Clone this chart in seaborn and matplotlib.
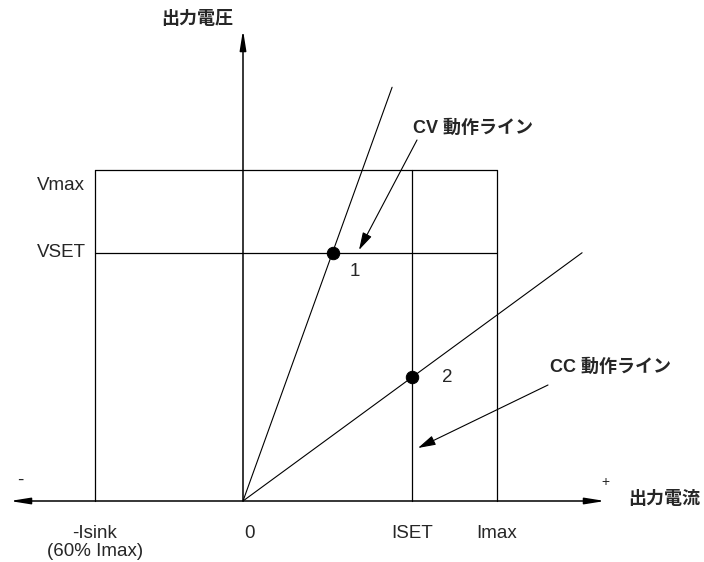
import numpy as np
import pandas as pd
import seaborn as sns
import matplotlib.pyplot as plt

sns.set_theme(style="white")
plt.rcParams["font.family"] = ["Liberation Sans", "Noto Sans CJK JP", "DejaVu Sans"]

# 電流 (Imax = 1)、電圧 (Vmax = 1)
i_ticks = [-0.583, 0.0, 0.665, 1.0]
i_labels = ["-Isink\n(60% Imax)", "0", "ISET", "Imax"]
v_levels = [0.75, 1.0]
v_labels = ["VSET", "Vmax"]
cv_x = [0.0, 0.587]
cv_y = [0.0, 1.25]
cc_x = [0.0, 1.335]
cc_y = [0.0, 0.75]
pt_x = [0.354, 0.665]
pt_y = [0.75, 0.375]
pt_labels = ["1", "2"]


def P(x, y):
    # 参照画像のピクセル位置 -> データ座標
    return ((x - 243) / 254.0, (501 - y) / 331.0)


fig = plt.figure(figsize=(7.04, 5.62), dpi=100)
ax = fig.add_axes([0, 0, 1, 1])
x0, y0 = P(0, 562)
x1, y1 = P(704, 0)
ax.set_xlim(x0, x1)
ax.set_ylim(y0, y1)
ax.axis("off")

lw = 0.9
isink, imax = i_ticks[0], i_ticks[-1]
vset, vmax = v_levels
iset = i_ticks[2]

# 枠
ax.plot([isink, imax], [vmax, vmax], color="black", lw=lw)
ax.plot([isink, isink], [0, vmax], color="black", lw=lw)
ax.plot([imax, imax], [0, vmax], color="black", lw=lw)
ax.plot([isink, imax], [vset, vset], color="black", lw=lw)
ax.plot([iset, iset], [0, vmax], color="black", lw=lw)

# 動作ライン
df = pd.DataFrame({"x": cv_x + cc_x, "y": cv_y + cc_y,
                   "line": ["CV", "CV", "CC", "CC"]})
sns.lineplot(data=df, x="x", y="y", units="line", estimator=None,
             color="black", lw=0.8, ax=ax, legend=False)
sns.scatterplot(x=pt_x, y=pt_y, color="black", s=80, ax=ax, zorder=5,
                edgecolor="black", legend=False)

# 軸
ax.annotate("", xy=P(10, 501), xytext=P(605, 501),
            arrowprops=dict(arrowstyle="<|-|>,head_length=1.0,head_width=0.16",
                            color="black", lw=1.1, shrinkA=0, shrinkB=0))
ax.annotate("", xy=P(243, 30), xytext=P(243, 501),
            arrowprops=dict(arrowstyle="-|>,head_length=1.0,head_width=0.16",
                            color="black", lw=1.1, shrinkA=0, shrinkB=0))

# 矢印
ax.annotate("", xy=P(359, 250), xytext=P(417, 140),
            arrowprops=dict(arrowstyle="-|>,head_length=0.9,head_width=0.25",
                            color="black", lw=0.8, shrinkA=0, shrinkB=0))
ax.annotate("", xy=P(418, 448), xytext=P(548, 385),
            arrowprops=dict(arrowstyle="-|>,head_length=0.9,head_width=0.25",
                            color="black", lw=0.8, shrinkA=0, shrinkB=0))

fs = 13.5
for xv, lab in zip(i_ticks, i_labels):
    ax.text(xv + (0.025 if xv == 0 else 0.0), P(0, 525)[1], lab, ha="center", va="top",
            fontsize=fs, linespacing=1.05)
for yv, lab, off in zip(v_levels, v_labels, [0, 16]):
    ax.text(P(37, 0)[0], yv - off / 331.0, lab, ha="left", va="center", fontsize=fs)

ax.text(*P(355, 272), pt_labels[0], ha="center", va="center", fontsize=fs)
ax.text(*P(447, 378), pt_labels[1], ha="center", va="center", fontsize=fs)

ax.text(*P(197, 20), "出力電圧", ha="center", va="center", fontsize=13, fontweight="bold")
ax.text(*P(628, 499), "出力電流", ha="left", va="center", fontsize=13, fontweight="bold")
ax.text(*P(413, 128), "CV 動作ライン", ha="left", va="center", fontsize=13, fontweight="bold")
ax.text(*P(550, 367), "CC 動作ライン", ha="left", va="center", fontsize=13, fontweight="bold")
ax.text(*P(20, 480), "-", ha="center", va="center", fontsize=fs)
ax.text(*P(605, 482), "+", ha="center", va="center", fontsize=10)

fig.savefig("out.png", dpi=100)
